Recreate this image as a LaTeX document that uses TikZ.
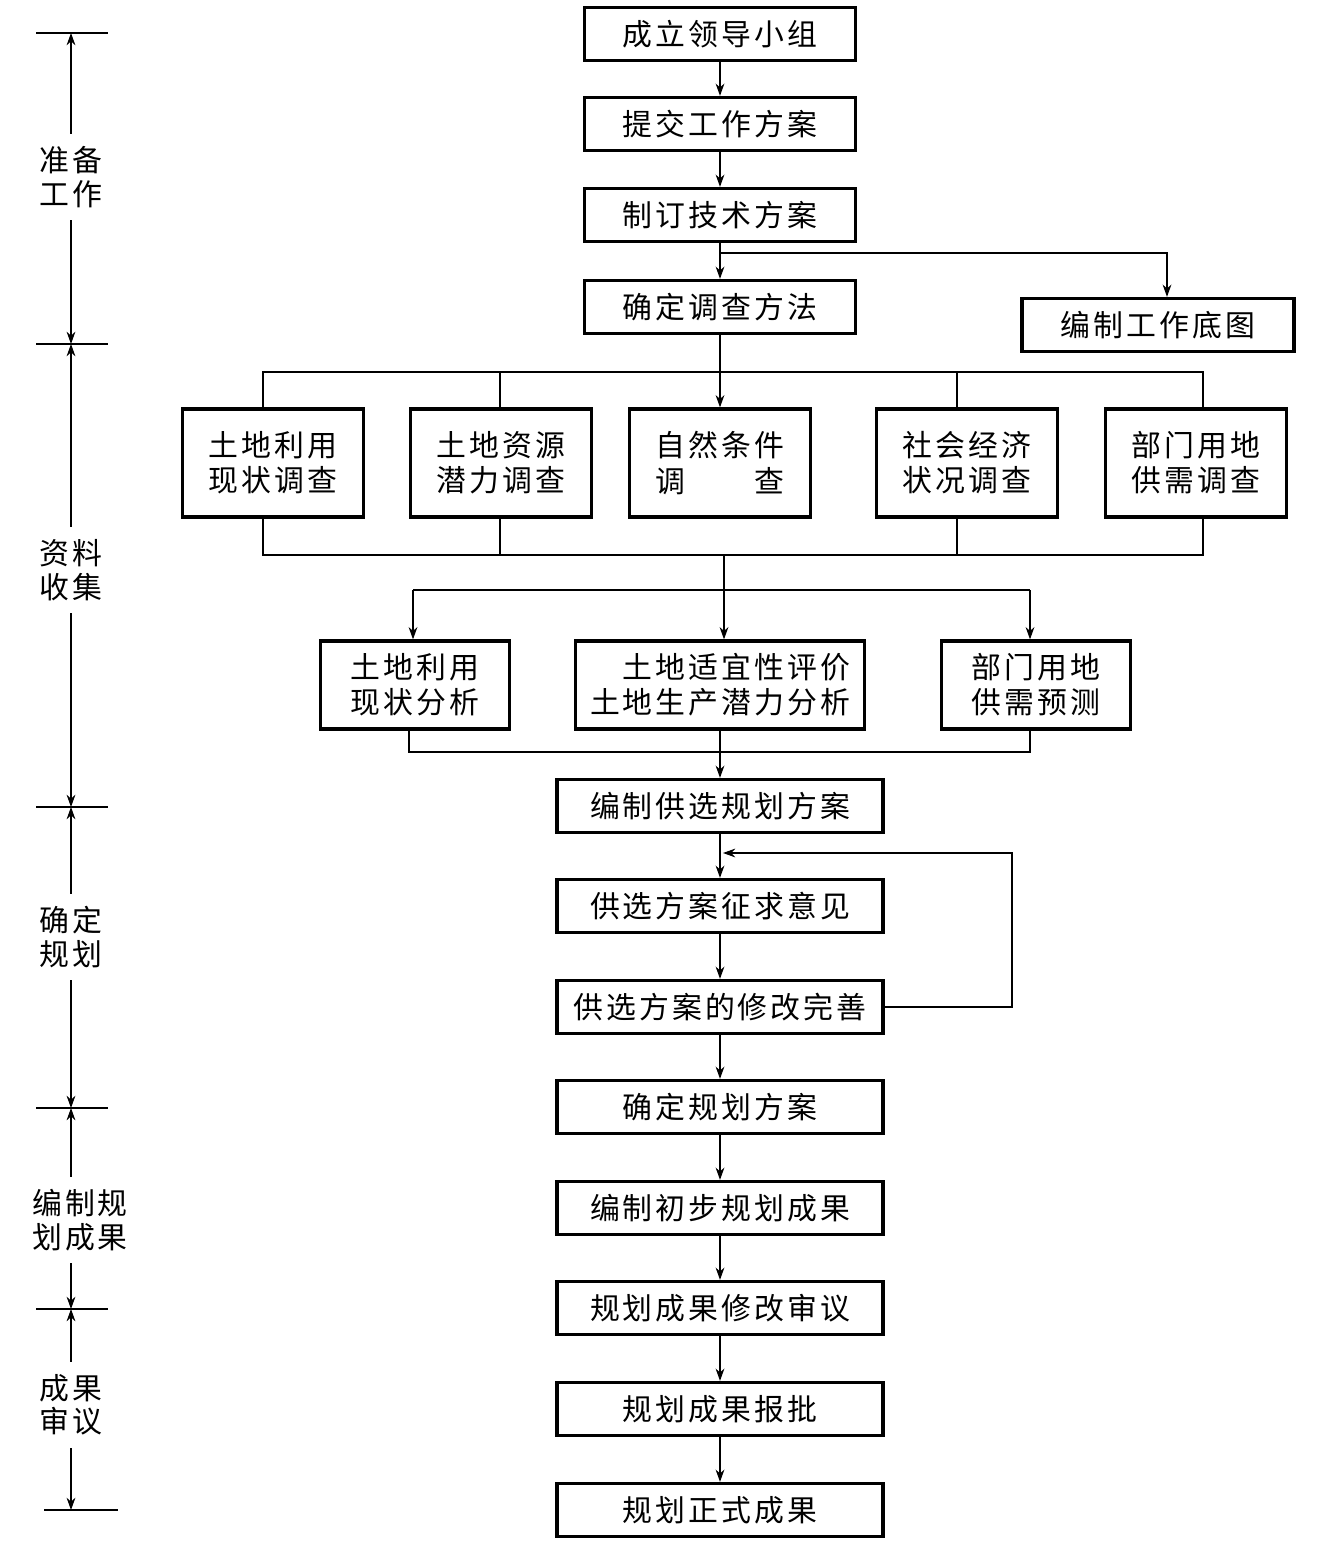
\documentclass[tikz,border=0pt]{standalone}
\usepackage{fontspec}
\usepackage{calc}
\usepackage{tikz}
\usetikzlibrary{arrows.meta}
\newfontfamily\cjk{Noto Sans CJK SC}[LetterSpace=10]

\begin{document}
\begin{tikzpicture}[x=0.02cm,y=-0.02cm,
  font=\cjk\fontsize{17}{20}\selectfont,
  box/.style={draw,line width=1.9pt,minimum width=5.42cm,minimum height=1.06cm,inner sep=0pt,align=center},
  pbox/.style={box,minimum width=6.52cm},
  sbox/.style={box,minimum width=3.62cm,minimum height=2.16cm},
  abox/.style={box,minimum width=3.78cm,minimum height=1.76cm},
  stage/.style={align=center,inner xsep=2pt,inner ysep=7pt,font=\cjk\fontsize{17}{19}\selectfont},
  ln/.style={line width=0.6pt},
  arr/.style={ln,-{Stealth[length=7pt,width=5pt]}}]
  \useasboundingbox (0,0) rectangle (1326,1554);

  % preparation
  \node[box] (b1) at (720,34) {成立领导小组};
  \node[box] (b2) at (720,124) {提交工作方案};
  \node[box] (b3) at (720,215) {制订技术方案};
  \node[box] (b4) at (720,307) {确定调查方法};
  \node[box,minimum width=5.44cm] (bm) at (1158,325) {编制工作底图};

  \coordinate (j1) at (720,253);
  \draw[arr] (b1) -- (b2);
  \draw[arr] (b2) -- (b3);
  \draw[arr] (b3) -- (b4);
  \draw[arr] (j1) -| ([xshift=0.18cm]bm.north);

  % surveys
  \node[sbox] (s1) at (273,463) {土地利用\\现状调查};
  \node[sbox] (s2) at (501,463) {土地资源\\潜力调查};
  \node[sbox] (s3) at (720,463) {自然条件\\\makebox[\widthof{自然条件}]{调\hfill 查}};
  \node[sbox] (s4) at (967,463) {社会经济\\状况调查};
  \node[sbox] (s5) at (1196,463) {部门用地\\供需调查};

  \coordinate (ta) at (263,372);
  \coordinate (tb) at (500,372);
  \coordinate (td) at (957,372);
  \coordinate (te) at (1203,372);
  \draw[ln] (ta |- s1.north) -- (ta) -- (te) -- (te |- s5.north);
  \draw[ln] (tb) -- (tb |- s2.north);
  \draw[ln] (td) -- (td |- s4.north);
  \draw[arr] (b4) -- (s3);

  \coordinate (ua) at (263,555);
  \coordinate (ub) at (500,555);
  \coordinate (ud) at (957,555);
  \coordinate (ue) at (1203,555);
  \draw[ln] (ua |- s1.south) -- (ua) -- (ue) -- (ue |- s5.south);
  \draw[ln] (ub |- s2.south) -- (ub);
  \draw[ln] (ud |- s4.south) -- (ud);

  % analysis
  \node[abox] (a1) at (415,685) {土地利用\\现状分析};
  \node[abox,minimum width=5.78cm,align=right] (a2) at (720,685) {土地适宜性评价\\土地生产潜力分析};
  \node[abox] (a3) at (1036,685) {部门用地\\供需预测};

  \coordinate (um) at (724,555);
  \coordinate (vm) at (724,590);
  \coordinate (va) at (413,590);
  \coordinate (vc) at (1030,590);
  \draw[ln] (um) -- (vm);
  \draw[ln] (va) -- (vc);
  \draw[arr] (va) -- (va |- a1.north);
  \draw[arr] (vm) -- (vm |- a2.north);
  \draw[arr] (vc) -- (vc |- a3.north);

  \coordinate (wa) at (409,752);
  \coordinate (wc) at (1030,752);
  \draw[ln] (wa |- a1.south) -- (wa) -- (wc) -- (wc |- a3.south);

  % planning
  \node[pbox] (p1) at (720,806) {编制供选规划方案};
  \node[pbox] (p2) at (720,906) {供选方案征求意见};
  \node[pbox] (p3) at (720,1007) {供选方案的修改完善};
  \node[pbox] (p4) at (720,1107) {确定规划方案};
  \node[pbox] (p5) at (720,1208) {编制初步规划成果};
  \node[pbox] (p6) at (720,1308) {规划成果修改审议};
  \node[pbox] (p7) at (720,1409) {规划成果报批};
  \node[pbox] (p8) at (720,1510) {规划正式成果};

  \draw[arr] (a2) -- (p1);
  \foreach \i/\j in {1/2,2/3,3/4,4/5,5/6,6/7,7/8}
    \draw[arr] (p\i) -- (p\j);

  \coordinate (fr) at (1012,853);
  \coordinate (fb) at (723,853);
  \draw[arr] (p3.east) -| (fr) -- (fb);

  % stages on the left
  \foreach \y [count=\i] in {33,344,807,1108,1309} {
    \draw[ln] (36,\y) -- (108,\y);
    \coordinate (k\i) at (71,\y);
  }
  \draw[ln] (44,1510) -- (118,1510);
  \coordinate (k6) at (71,1510);

  \node[stage] (l1) at (71,177) {准备\\工作};
  \node[stage] (l2) at (71,570) {资料\\收集};
  \node[stage] (l3) at (71,937) {确定\\规划};
  \node[stage] (l4) at (80,1220) {编制规\\划成果};
  \node[stage] (l5) at (71,1405) {成果\\审议};

  \foreach \i/\j in {1/2,2/3,3/4,4/5,5/6} {
    \draw[arr] (k\i |- l\i.north) -- (k\i);
    \draw[arr] (k\i |- l\i.south) -- (k\j);
  }
\end{tikzpicture}
\end{document}
